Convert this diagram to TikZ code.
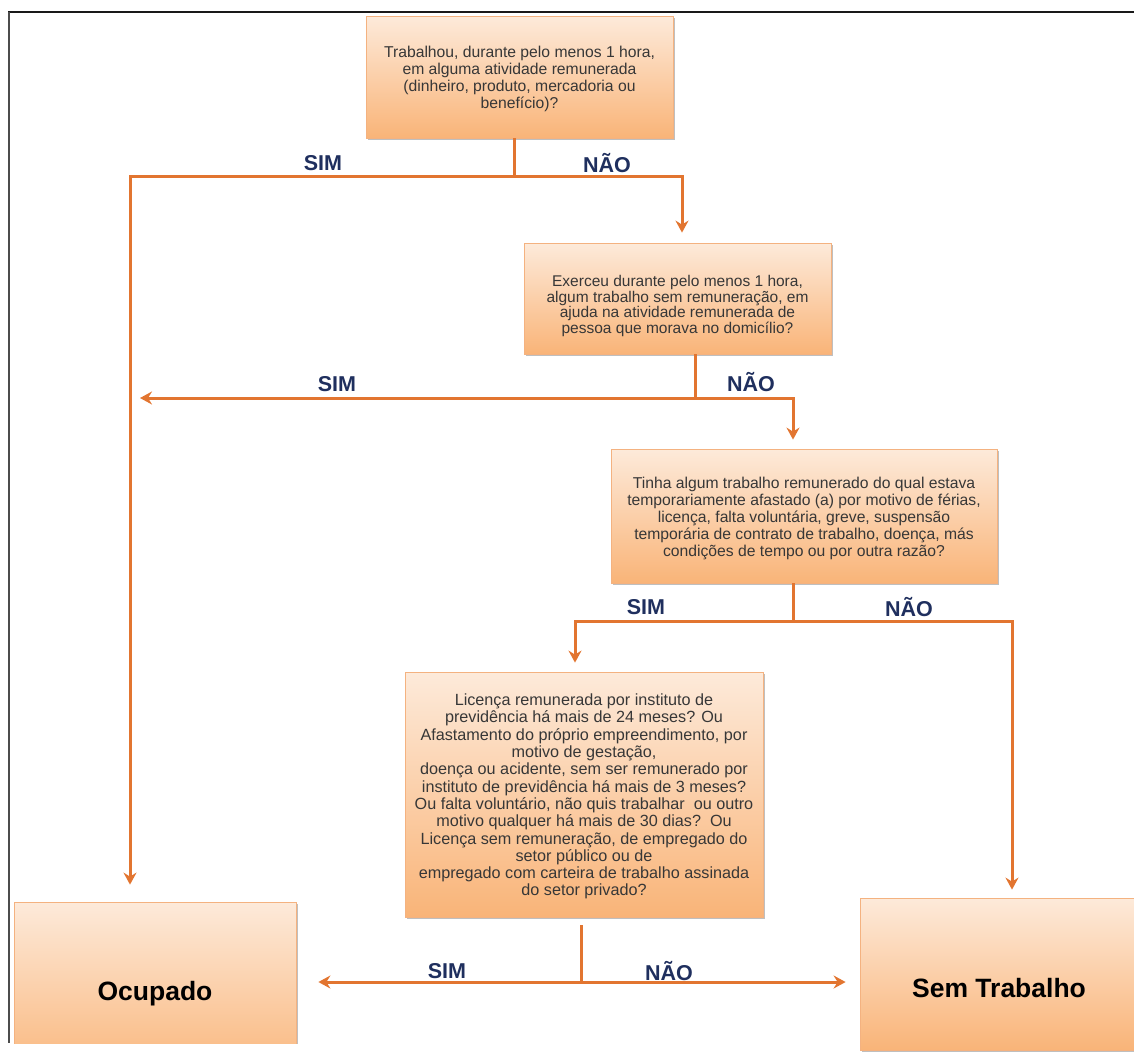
\documentclass[tikz,border=0pt]{standalone}
\usepackage{fontspec}
\setmainfont{Liberation Sans}
\usetikzlibrary{arrows.meta,shadows}
\definecolor{ln}{RGB}{226,117,48}
\definecolor{lab}{RGB}{31,47,94}
\definecolor{boxtop}{RGB}{253,234,218}
\definecolor{boxbot}{RGB}{249,180,120}
\definecolor{boxedge}{RGB}{244,178,128}
\definecolor{txt}{RGB}{55,55,55}
\begin{document}
\begin{tikzpicture}[x=1pt,y=-1pt,
  qbox/.style={rectangle, draw=boxedge, line width=0.8pt, top color=boxtop, bottom color=boxbot,
    align=center, text=txt, font=\fontsize{15.7}{17}\selectfont, inner sep=2pt,
    drop shadow={shadow xshift=1.5pt, shadow yshift=-2pt, fill=black, opacity=0.25}},
  endbox/.style={qbox, text=black, font=\bfseries\fontsize{26.5}{30}\selectfont},
  conn/.style={draw=ln, line width=3pt},
  arr/.style={conn, -{Stealth[length=12pt,width=13pt,inset=4pt]}},
  lbl/.style={text=lab, font=\bfseries\fontsize{21.5}{23}\selectfont},
  ]
\useasboundingbox (0,0) rectangle (1134,1053);
\clip (0,0) rectangle (1134,1053);

% frame
\draw[line width=2.2pt, black!90] (8,12) -- (1134,12);
\draw[line width=2pt, black!70] (8.5,12) -- (8.5,1043);

% boxes
\node[qbox, minimum width=307, minimum height=122] (b1) at (519.5,77)
  {\rule{0pt}{15pt}Trabalhou, durante pelo menos 1 hora,\\ em alguma atividade remunerada\\ (dinheiro, produto, mercadoria ou\\ benefício)?};
\node[qbox, minimum width=307, minimum height=111, font=\fontsize{15.5}{15.8}\selectfont] (b2) at (677.5,298.5)
  {\rule{0pt}{26pt}Exerceu durante pelo menos 1 hora,\\ algum trabalho sem remuneração, em\\ ajuda na atividade remunerada de\\ pessoa que morava no domicílio?};
\node[qbox, minimum width=386, minimum height=134] (b3) at (804,516)
  {\rule{0pt}{16pt}Tinha algum trabalho remunerado do qual estava\\ temporariamente afastado (a) por motivo de férias,\\ licença, falta voluntária, greve, suspensão\\ temporária de contrato de trabalho, doença, más\\ condições de tempo ou por outra razão?};
\node[qbox, minimum width=358, minimum height=245, font=\fontsize{16.2}{17.3}\selectfont] (b4) at (584,794.5)
  {\rule{0pt}{16pt}Licença remunerada por instituto de\\ previdência há mais de 24 meses? Ou\\ Afastamento do próprio empreendimento, por\\ motivo de gestação,\\ doença ou acidente, sem ser remunerado por\\ instituto de previdência há mais de 3 meses?\\ Ou falta voluntário, não quis trabalhar\ \ ou outro\\ motivo qualquer há mais de 30 dias?\ \ Ou\\ Licença sem remuneração, de empregado do\\ setor público ou de\\ empregado com carteira de trabalho assinada\\ do setor privado?};
\begin{scope}
\clip (0,0) rectangle (420,1043);
\node[endbox, minimum width=282, minimum height=180] (occ) at (155,992)
  {\raisebox{-8pt}[0pt][0pt]{Ocupado}};
\end{scope}
\node[endbox, minimum width=278, minimum height=152] (st) at (999,974)
  {\raisebox{-23pt}[0pt][0pt]{Sem Trabalho}};

% junctions
\coordinate (j1) at (514,176);
\coordinate (l1) at (130,176);
\coordinate (r1) at (682,176);
\coordinate (j2) at (695,398);
\coordinate (l2) at (140,398);
\coordinate (r2) at (793,398);
\coordinate (j3) at (793,621);
\coordinate (l3) at (575,621);
\coordinate (r3) at (1012,621);
\coordinate (j4) at (581,982);

% connectors
\draw[conn] (b1.south -| j1) -- (j1);
\draw[arr, shorten >=17pt] (j1) -- (l1) -- (l1 |- occ.north);
\draw[arr, shorten >=10pt] (j1) -- (r1) -- (r1 |- b2.north);

\draw[conn] (b2.south -| j2) -- (j2);
\draw[arr] (j2) -- (l2);
\draw[arr, shorten >=9pt] (j2) -- (r2) -- (r2 |- b3.north);

\draw[conn] (b3.south -| j3) -- (j3);
\draw[arr, shorten >=9pt] (j3) -- (l3) -- (l3 |- b4.north);
\draw[arr, shorten >=8pt] (j3) -- (r3) -- (r3 |- st.north);

\draw[conn, shorten <=8pt] (b4.south -| j4) -- (j4);
\draw[arr, shorten >=22pt] (j4) -- (j4 -| occ.east);
\draw[arr, shorten >=14pt] (j4) -- (j4 -| st.west);

% labels
\node[lbl] (s1) at (323,163) {SIM};
\node[lbl] (n1) at (607,163) {NÃO};
\node[lbl] (s2) at (337,384) {SIM};
\node[lbl] (n2) at (751,382) {NÃO};
\node[lbl] (s3) at (646,607) {SIM};
\node[lbl] (n3) at (909,607) {NÃO};
\node[lbl] (s4) at (447,971) {SIM};
\node[lbl] (n4) at (669,971) {NÃO};
\end{tikzpicture}
\end{document}
